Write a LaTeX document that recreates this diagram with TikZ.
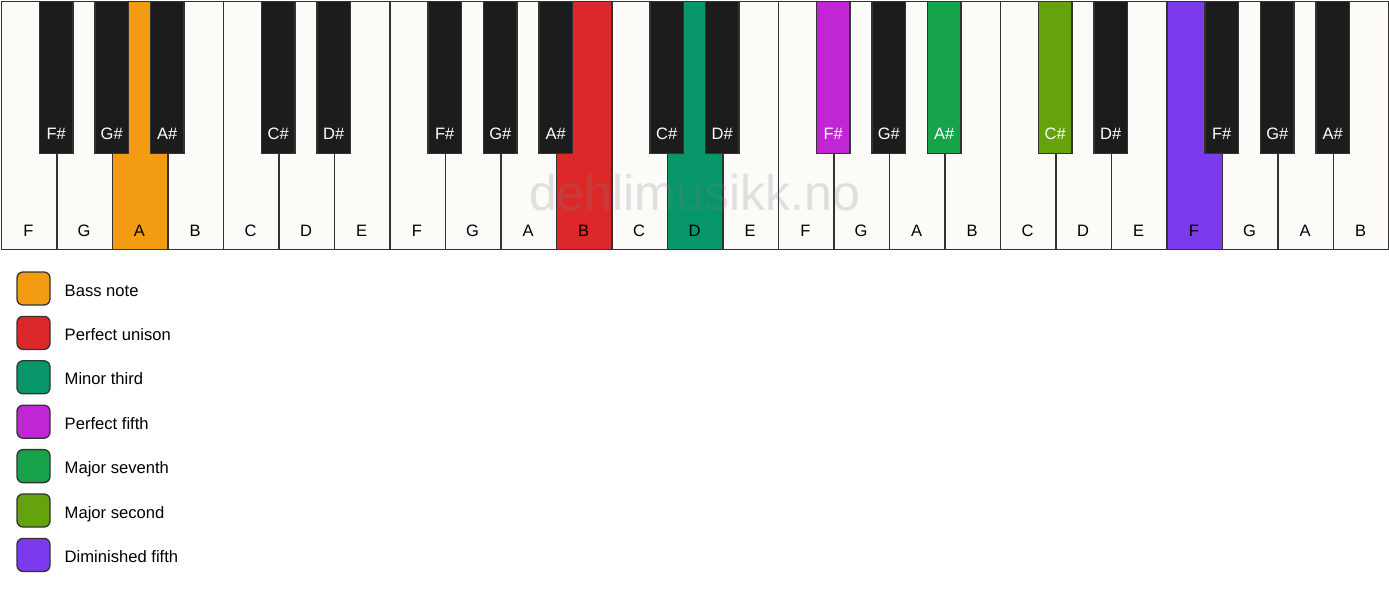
\documentclass[tikz,border=0pt]{standalone}
\usepackage{fontspec}
\setmainfont{Liberation Sans}
\definecolor{keyw}{HTML}{FCFBF8}
\definecolor{keyb}{HTML}{1C1C1C}
\definecolor{edge}{HTML}{333333}
\definecolor{cBass}{HTML}{F39C12}
\definecolor{cUni}{HTML}{DC2828}
\definecolor{cMin}{HTML}{069669}
\definecolor{cFifth}{HTML}{C026D3}
\definecolor{cSev}{HTML}{16A34A}
\definecolor{cSec}{HTML}{65A30D}
\definecolor{cDim}{HTML}{7C3AED}
\tikzset{
  whitekey/.style={draw=edge, line width=1.3pt, rectangle, minimum width=55.5pt, minimum height=248pt, inner sep=0pt, anchor=north west},
  blackkey/.style={draw=edge, line width=1.3pt, rectangle, minimum width=33.5pt, minimum height=152pt, inner sep=0pt, anchor=north},
  wlabel/.style={font=\fontsize{16.5}{18}\selectfont, text=black, inner sep=0pt},
  blabel/.style={font=\fontsize{16.5}{18}\selectfont, text=white, inner sep=0pt},
  legbox/.style={draw=edge, line width=1.3pt, rounded corners=6pt, minimum width=33pt, minimum height=33pt, inner sep=0pt},
  legtext/.style={anchor=base west, font=\fontsize{16.6}{18}\selectfont, inner sep=0pt},
  watermark/.style={font=\fontsize{50}{50}\selectfont, text=gray, text opacity=0.22, inner sep=0pt}
}
\begin{document}
\begin{tikzpicture}[x=1pt,y=-1pt]
\useasboundingbox (0,0) rectangle (1389,594);
\fill[white] (0,0) rectangle (1389,594);
% white keys
\foreach \n/\f [count=\i from 0] in {F/keyw,G/keyw,A/cBass,B/keyw,C/keyw,D/keyw,E/keyw,F/keyw,G/keyw,A/keyw,B/cUni,C/keyw,D/cMin,E/keyw,F/keyw,G/keyw,A/keyw,B/keyw,C/keyw,D/keyw,E/keyw,F/cDim,G/keyw,A/keyw,B/keyw}{
  \node[whitekey, fill=\f] (w\i) at ({0.75+\i*55.5},0.75) {};
  \node[wlabel] (wl\i) at ({0.75+\i*55.5+27.75},230.5) {\n};
}
% watermark
\node[watermark] (wm) at (694.5,193) {dehlimusikk.no};
% black keys
\foreach \i/\n/\f in {1/F/keyb,2/G/keyb,3/A/keyb,5/C/keyb,6/D/keyb,8/F/keyb,9/G/keyb,10/A/keyb,12/C/keyb,13/D/keyb,15/F/cFifth,16/G/keyb,17/A/cSev,19/C/cSec,20/D/keyb,22/F/keyb,23/G/keyb,24/A/keyb}{
  \node[blackkey, fill=\f] (b\i) at ({0.75+\i*55.5},0.75) {};
  \node[blabel] (bl\i) at ({0.75+\i*55.5},133.5) {\n\#};
}
% legend
\foreach \t/\f [count=\k from 0] in {Bass note/cBass,Perfect unison/cUni,Minor third/cMin,Perfect fifth/cFifth,Major seventh/cSev,Major second/cSec,Diminished fifth/cDim}{
  \node[legbox, fill=\f] (lb\k) at (33.5,{288.5+\k*44.4}) {};
  \node[legtext] (lt\k) at (64.5,{296+\k*44.4}) {\t};
}
\end{tikzpicture}
\end{document}
